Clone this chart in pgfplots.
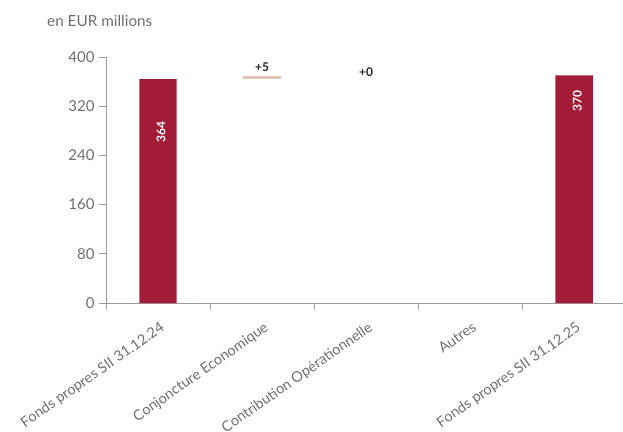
\documentclass[border=0pt]{standalone}
\usepackage{fontspec}
\setmainfont{Lato}
\usepackage{pgfplots}
\pgfplotsset{compat=1.18}
\definecolor{barred}{HTML}{A31C37}
\definecolor{beige}{HTML}{DFC3B3}
\definecolor{axgray}{HTML}{9A9A9A}
\definecolor{txtgray}{HTML}{6E6E6E}
\begin{document}
\begin{tikzpicture}
\path[use as bounding box] (0,0) rectangle (623bp,432bp);
\node[anchor=base west, text=txtgray, font=\fontsize{15.3bp}{17bp}\selectfont, inner sep=0pt] at (47bp,405bp) {en EUR millions};
\begin{axis}[
  at={(106bp,129bp)}, anchor=south west,
  scale only axis, width=517bp, height=246bp,
  xmin=-0.5, xmax=4.47, ymin=0, ymax=400,
  ybar stacked, bar width=0.36,
  axis x line*=bottom, axis y line*=left,
  axis line style={draw=axgray, line width=0.8pt, -},
  ytick={0,80,160,240,320,400},
  xtick={-0.5,0.5,1.5,2.5,3.5},
  xticklabels={},
  extra x ticks={0,1,2,3,4},
  extra x tick labels={Fonds propres SII 31.12.24, Conjoncture Economique, Contribution Opérationnelle, Autres, Fonds propres SII 31.12.25},
  extra x tick style={major tick length=0pt, xticklabel style={rotate=35, anchor=north east, text=txtgray, font=\fontsize{14.5bp}{16bp}\selectfont, yshift=-12bp, xshift=-6bp}},
  tick style={draw=axgray, line width=0.8pt},
  major tick length=7bp,
  tick align=outside,
  yticklabel style={text=txtgray, font=\fontsize{15bp}{17bp}\selectfont, xshift=-1bp},
  /pgf/number format/assume math mode=true,
  clip=false,
]
\addplot[fill=none, draw=none] coordinates {(0,0) (1,364) (2,369) (3,369) (4,0)};
\addplot[fill=barred, draw=none] coordinates {(0,364) (1,0) (2,0) (3,0) (4,370)};
\addplot[fill=beige, draw=none] coordinates {(0,0) (1,5) (2,0) (3,0) (4,0)};
\coordinate (p5) at (axis cs:1,383);
\coordinate (p0) at (axis cs:2,376);
\coordinate (v364) at (axis cs:0.03,278);
\coordinate (v370) at (axis cs:4.03,329);
\end{axis}
\node[font=\bfseries\fontsize{12bp}{13bp}\selectfont, text=black!85] at (p5) {+5};
\node[font=\bfseries\fontsize{12bp}{13bp}\selectfont, text=black!85] at (p0) {+0};
\node[font=\bfseries\fontsize{12bp}{13bp}\selectfont, text=white, rotate=90] at (v364) {364};
\node[font=\bfseries\fontsize{12bp}{13bp}\selectfont, text=white, rotate=90] at (v370) {370};
\end{tikzpicture}
\end{document}
